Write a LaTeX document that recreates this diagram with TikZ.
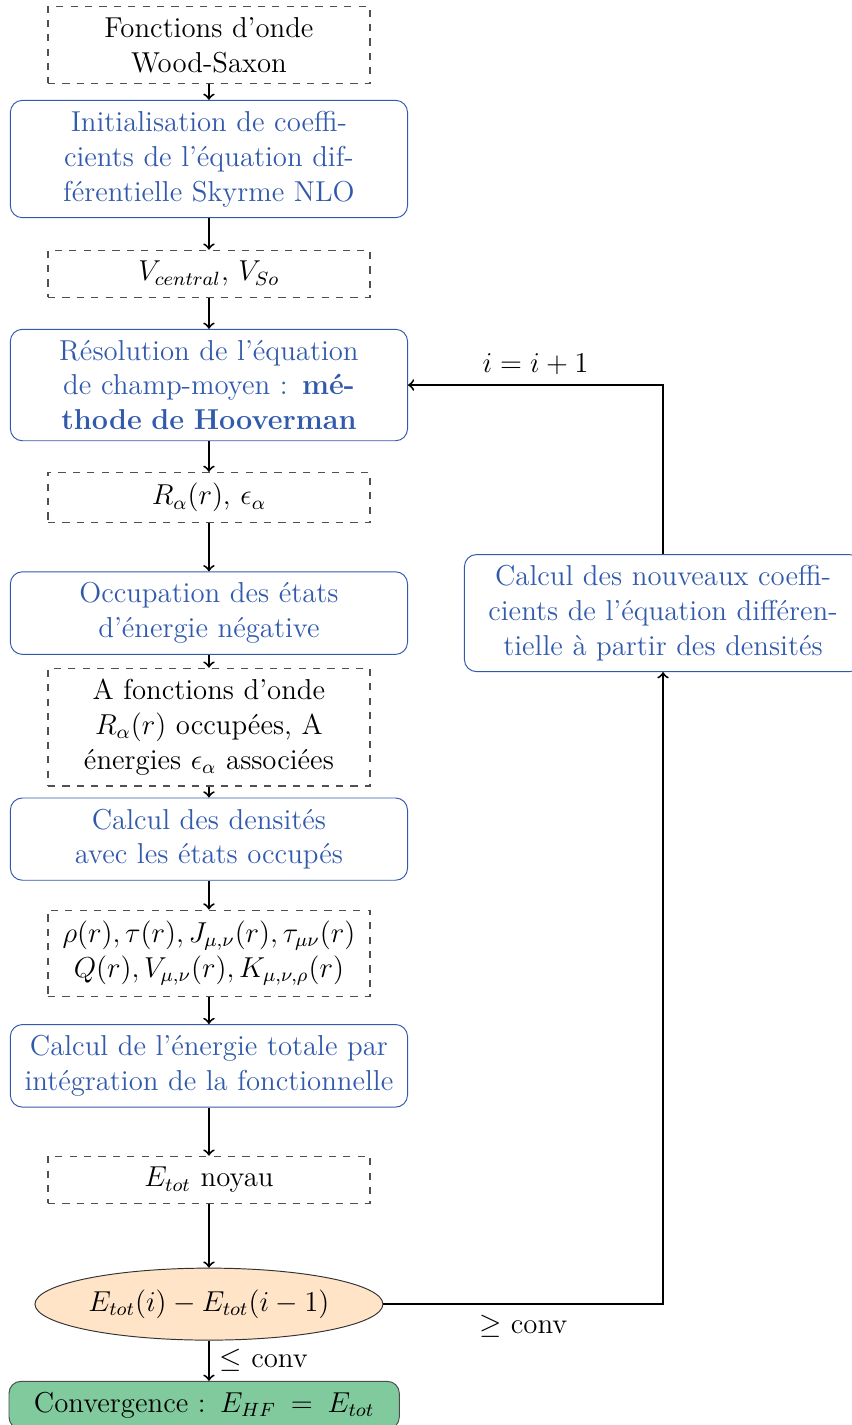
\documentclass[tikz,border=0pt,12pt]{standalone}
\usepackage{fontspec}
\usepackage{amsmath}
\usepackage{amssymb}
\usepackage{xcolor}
\usepackage{tikz}
\usetikzlibrary{shapes.geometric, arrows, positioning, calc}

\definecolor{flowblue}{RGB}{50,90,172}
\definecolor{dashgray}{RGB}{80,80,80}
\definecolor{fillorange}{RGB}{255,228,200}
\definecolor{fillgreen}{RGB}{128,202,158}

\begin{document}
\begin{tikzpicture}[
    blk/.style={draw=flowblue, text=flowblue, rounded corners=5pt,
      text width=5.5cm, align=center, inner sep=4.5pt},
    dat/.style={draw=dashgray, dashed, line width=0.5pt, text width=4.4cm, align=center,
      inner sep=4.5pt},
    test/.style={ellipse, draw=black!80, fill=fillorange, minimum width=145pt,
      minimum height=30pt, inner sep=0pt},
    fin/.style={draw=black!70, fill=fillgreen, rounded corners=5pt,
      text width=5.4cm, align=center, inner sep=4.5pt},
    flow/.style={->, thick}
  ]
  % Page frame
  \useasboundingbox (0,0) rectangle (12.477,20.869);

  % Main column
  \node[dat] (wsax) at (3.06,20.21) {Fonctions d'onde\\Wood-Saxon};
  \node[blk] (init) at (3.06,18.54) {Initialisation de coeffi-\\cients de l'équation dif-\\férentielle Skyrme NLO};
  \node[dat] (vpot) at (3.06,16.86) {$V_{central}$, $V_{So}$};
  \node[blk] (resol) at (3.06,15.23) {Résolution de l'équation\\de champ-moyen : \textbf{mé-}\\\textbf{thode de Hooverman}};
  \node[dat] (ralpha) at (3.06,13.58) {$R_\alpha(r)$, $\epsilon_\alpha$};
  \node[blk] (occup) at (3.06,11.89) {Occupation des états\\d'énergie négative};
  \node[dat] (afonc) at (3.06,10.22) {A fonctions d'onde\\$R_\alpha(r)$ occupées, A\\énergies $\epsilon_\alpha$ associées};
  \node[blk] (dens) at (3.06,8.58) {Calcul des densités\\avec les états occupés};
  \node[dat] (rho) at (3.06,6.91) {$\rho(r), \tau(r), J_{\mu,\nu}(r), \tau_{\mu\nu}(r)$\\$Q(r), V_{\mu,\nu}(r), K_{\mu,\nu,\rho}(r)$};
  \node[blk] (ecalc) at (3.06,5.26) {Calcul de l'énergie totale par\\intégration de la fonctionnelle};
  \node[dat] (etot) at (3.06,3.59) {$E_{tot}$ noyau};
  \node[test] (diff) at (3.06,1.77) {$E_{tot}(i) - E_{tot}(i-1)$};
  \node[fin] (conv) at (2.99,0.29) {Convergence : $E_{HF}\, =\, E_{tot}$};

  % Update box
  \node[blk] (newcoef) at (9.71,11.89) {Calcul des nouveaux coeffi-\\cients de l'équation différen-\\tielle à partir des densités};

  % Arrows down the column
  \draw[flow] (wsax) -- (init);
  \draw[flow] (init) -- (vpot);
  \draw[flow] (vpot) -- (resol);
  \draw[flow] (resol) -- (ralpha);
  \draw[flow] (ralpha) -- (occup);
  \draw[flow] (occup) -- (afonc);
  \draw[flow] (afonc) -- (dens);
  \draw[flow] (dens) -- (rho);
  \draw[flow] (rho) -- (ecalc);
  \draw[flow] (ecalc) -- (etot);
  \draw[flow] (etot) -- (diff);
  \draw[flow] (diff) -- node[right] {$\leq$ conv} (diff |- conv.north);

  % Loop back
  \draw[flow] (diff.east) -| (newcoef.south) node[pos=0.25, below] {$\geq$ conv};
  \draw[flow] (newcoef.north) |- (resol.east) node[pos=0.75, above] {$i = i + 1$};
\end{tikzpicture}
\end{document}
